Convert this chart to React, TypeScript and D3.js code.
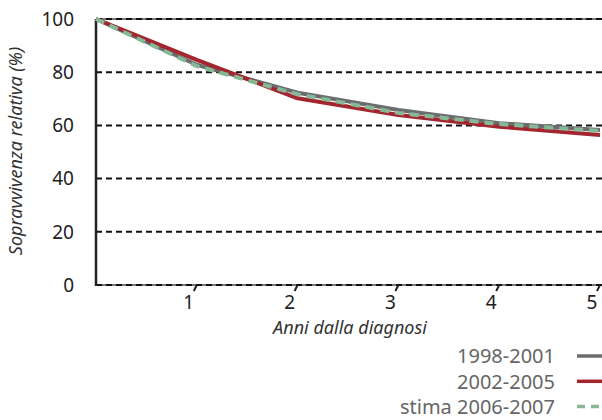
import React from "react";
import * as d3 from "d3";

const years = [0, 1, 2, 3, 4, 5];
const s1998 = [100, 82.8, 72.3, 65.8, 60.8, 58.3];
const s2002 = [100, 84.6, 70.2, 63.9, 59.5, 56.4];
const s2006 = [100, 82.3, 71.7, 64.7, 60.5, 57.9];
const yTicks = [0, 20, 40, 60, 80, 100];
const xTicks = [1, 2, 3, 4, 5];
const legendLabels = ["1998-2001", "2002-2005", "stima 2006-2007"];

const W = 602;
const H = 420;
const FONT = "'Noto Sans', 'DejaVu Sans', sans-serif";

export default function App() {
  const x = d3.scaleLinear().domain([0, 5]).range([96, 600]);
  const y = d3.scaleLinear().domain([0, 100]).range([285, 19]);
  const line = d3
    .line<number>()
    .x((_, i) => x(years[i]))
    .y((d) => y(d));

  const series = [
    { data: s1998, color: "#6b6c6e", dash: undefined as string | undefined },
    { data: s2002, color: "#a3262e", dash: undefined as string | undefined },
    { data: s2006, color: "#86b996", dash: "9,6" },
  ];

  return (
    <svg
      width={W}
      height={H}
      style={{ position: "absolute", left: 0, top: 0, background: "#fff" }}
    >
      {/* gridlines */}
      {yTicks.map((t) => (
        <g key={t}>
          {(t === 0 || t === 100) && (
            <line x1={x(0)} x2={W} y1={y(t)} y2={y(t)} stroke="#777" strokeWidth={2} />
          )}
          <line
            x1={x(0)}
            x2={W}
            y1={y(t)}
            y2={y(t)}
            stroke="#111"
            strokeWidth={2}
            strokeDasharray="6,4"
          />
          <text
            x={74}
            y={y(t)}
            dy="0.36em"
            textAnchor="end"
            fontFamily={FONT}
            fontSize={19}
            fill="#222"
          >
            {t}
          </text>
        </g>
      ))}
      {/* y axis */}
      <line x1={x(0)} x2={x(0)} y1={y(100)} y2={y(0) + 1} stroke="#222" strokeWidth={2.5} />
      {/* x ticks */}
      {xTicks.map((t) => (
        <g key={t}>
          <line
            x1={x(t)}
            y1={y(0)}
            x2={x(t) - 3}
            y2={y(0) + 6}
            stroke="#222"
            strokeWidth={2}
          />
          <text
            x={x(t) - 8}
            y={309}
            textAnchor="middle"
            fontFamily={FONT}
            fontSize={19}
            fill="#222"
          >
            {t}
          </text>
        </g>
      ))}
      {/* series */}
      {series.map((s, i) => (
        <path
          key={i}
          d={line(s.data) || ""}
          fill="none"
          stroke={s.color}
          strokeWidth={4}
          strokeDasharray={s.dash}
          strokeLinejoin="round"
        />
      ))}
      {/* axis titles */}
      <text
        transform={`translate(22,151) rotate(-90)`}
        textAnchor="middle"
        fontFamily={FONT}
        fontStyle="italic"
        fontSize={18}
        fill="#333"
      >
        Sopravvivenza relativa (%)
      </text>
      <text
        x={350}
        y={334}
        textAnchor="middle"
        fontFamily={FONT}
        fontStyle="italic"
        fontSize={18}
        fill="#333"
      >
        Anni dalla diagnosi
      </text>
      {/* legend */}
      {legendLabels.map((lab, i) => {
        const cy = 356 + i * 25.3;
        const s = series[i];
        return (
          <g key={lab}>
            <text
              x={555}
              y={cy}
              dy="0.36em"
              textAnchor="end"
              fontFamily={FONT}
              fontSize={20}
              fill="#666"
            >
              {lab}
            </text>
            <line
              x1={577}
              x2={W}
              y1={cy}
              y2={cy}
              stroke={s.color}
              strokeWidth={3.5}
              strokeDasharray={s.dash ? "8,6" : undefined}
            />
          </g>
        );
      })}
    </svg>
  );
}
